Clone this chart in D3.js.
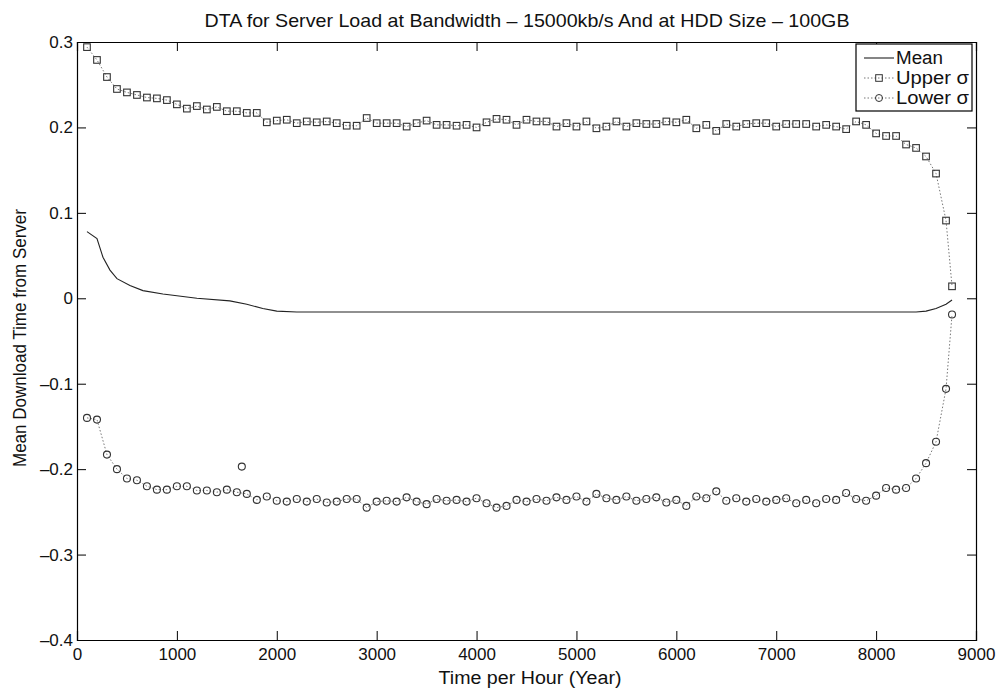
<!DOCTYPE html>
<html>
<head>
<meta charset="utf-8">
<script src="https://cdn.jsdelivr.net/npm/d3@7"></script>
<style>
  html, body { margin: 0; padding: 0; background: #fff; }
  svg { display: block; }
  text { font-family: "Liberation Sans", Arial, Helvetica, sans-serif; fill: #111; }
</style>
</head>
<body>
<svg id="chart" width="996" height="690"></svg>
<script>
// ---------------- data ----------------
const titleText = "DTA for Server Load at Bandwidth \u2013 15000kb/s And at HDD Size \u2013 100GB";
const xLabel = "Time per Hour (Year)";
const yLabel = "Mean Download Time from Server";
const xTicks = [0, 1000, 2000, 3000, 4000, 5000, 6000, 7000, 8000, 9000];
const yTicks = [0.3, 0.2, 0.1, 0, -0.1, -0.2, -0.3, -0.4];
const yTickLabels = ["0.3", "0.2", "0.1", "0", "\u20130.1", "\u20130.2", "\u20130.3", "\u20130.4"];
const legendNames = ["Mean", "Upper \u03c3", "Lower \u03c3"];

// hours where the sigma markers sit
const sigmaX = [100,200,300,400,500,600,700,800,900,1000,1100,1200,1300,1400,1500,1600,1700,1800,1900,2000,
  2100,2200,2300,2400,2500,2600,2700,2800,2900,3000,3100,3200,3300,3400,3500,3600,3700,3800,3900,4000,
  4100,4200,4300,4400,4500,4600,4700,4800,4900,5000,5100,5200,5300,5400,5500,5600,5700,5800,5900,6000,
  6100,6200,6300,6400,6500,6600,6700,6800,6900,7000,7100,7200,7300,7400,7500,7600,7700,7800,7900,8000,
  8100,8200,8300,8400,8500,8600,8700,8760];

const upperSigma = [0.294,0.279,0.259,0.245,0.241,0.238,0.235,0.234,0.232,0.227,0.222,0.225,0.221,0.224,0.219,0.219,0.217,0.217,0.206,0.208,
  0.209,0.205,0.207,0.206,0.207,0.205,0.202,0.202,0.211,0.205,0.205,0.205,0.201,0.205,0.208,0.203,0.203,0.202,0.203,0.200,
  0.206,0.210,0.209,0.203,0.209,0.207,0.207,0.201,0.205,0.201,0.207,0.199,0.201,0.207,0.201,0.205,0.204,0.204,0.207,0.206,
  0.209,0.199,0.203,0.196,0.204,0.201,0.204,0.205,0.205,0.201,0.204,0.204,0.204,0.201,0.203,0.201,0.198,0.207,0.203,0.193,
  0.190,0.190,0.180,0.176,0.166,0.146,0.091,0.014];

const lowerSigma = [-0.140,-0.142,-0.183,-0.200,-0.211,-0.213,-0.220,-0.224,-0.224,-0.220,-0.220,-0.225,-0.225,-0.227,-0.224,-0.227,-0.229,-0.236,-0.232,-0.237,
  -0.238,-0.235,-0.238,-0.235,-0.239,-0.238,-0.235,-0.235,-0.245,-0.238,-0.237,-0.238,-0.233,-0.238,-0.241,-0.235,-0.237,-0.236,-0.238,-0.234,
  -0.240,-0.245,-0.243,-0.236,-0.238,-0.235,-0.237,-0.233,-0.236,-0.232,-0.238,-0.229,-0.234,-0.236,-0.232,-0.237,-0.235,-0.233,-0.239,-0.236,
  -0.243,-0.232,-0.234,-0.226,-0.237,-0.234,-0.238,-0.235,-0.238,-0.236,-0.234,-0.240,-0.236,-0.240,-0.235,-0.236,-0.228,-0.235,-0.237,-0.231,
  -0.222,-0.224,-0.222,-0.211,-0.193,-0.168,-0.106,-0.019];

// a stray lower-sigma marker
const lowerStrayX = [1650];
const lowerStrayY = [-0.197];

const meanX = [100,200,260,330,400,530,660,860,1200,1530,1700,1860,2000,2200,2500,3000,4000,5000,6000,7000,8000,8400,8500,8600,8700,8760];
const meanY = [0.078,0.070,0.048,0.033,0.023,0.015,0.009,0.005,0.000,-0.003,-0.007,-0.012,-0.015,-0.016,-0.016,-0.016,-0.016,-0.016,-0.016,-0.016,-0.016,-0.016,-0.015,-0.012,-0.007,-0.002];

// ---------------- drawing ----------------
const svg = d3.select("#chart");
const L = 77, R = 976, T = 42, B = 640;
const x = d3.scaleLinear().domain([0, 9000]).range([L, R]);
const y = d3.scaleLinear().domain([-0.4, 0.3]).range([B, T]);

const tickLen = 9;
const gB = svg.append("g").attr("transform", `translate(0,${B})`)
  .call(d3.axisBottom(x).tickValues(xTicks).tickSize(-tickLen).tickPadding(6).tickFormat(d3.format("d")));
const gT = svg.append("g").attr("transform", `translate(0,${T})`)
  .call(d3.axisTop(x).tickValues(xTicks).tickSize(-tickLen).tickFormat(""));
const gL = svg.append("g").attr("transform", `translate(${L},0)`)
  .call(d3.axisLeft(y).tickValues(yTicks).tickSize(-tickLen).tickPadding(4)
    .tickFormat((d, i) => yTickLabels[i]));
const gR = svg.append("g").attr("transform", `translate(${R},0)`)
  .call(d3.axisRight(y).tickValues(yTicks).tickSize(-tickLen).tickFormat(""));

[gB, gT, gL, gR].forEach(g => {
  g.select(".domain").attr("stroke", "#000").attr("stroke-width", 1.2);
  g.selectAll(".tick line").attr("stroke", "#000").attr("stroke-width", 1);
  g.selectAll(".tick text").attr("font-size", 17).attr("fill", "#111")
    .style("font-family", '"Liberation Sans", Arial, sans-serif');
});
gB.selectAll(".tick text").attr("dy", "0.85em");

// mean line
const meanData = meanX.map((d, i) => [d, meanY[i]]);
svg.append("path").datum(meanData)
  .attr("fill", "none").attr("stroke", "#222").attr("stroke-width", 1.1)
  .attr("d", d3.line().x(d => x(d[0])).y(d => y(d[1])));

// upper sigma
const upData = sigmaX.map((d, i) => [d, upperSigma[i]]);
svg.append("path").datum(upData)
  .attr("fill", "none").attr("stroke", "#777").attr("stroke-width", 1)
  .attr("stroke-dasharray", "1.5,2")
  .attr("d", d3.line().x(d => x(d[0])).y(d => y(d[1])));
svg.append("g").selectAll("rect").data(upData).join("rect")
  .attr("x", d => x(d[0]) - 3.3).attr("y", d => y(d[1]) - 3.3)
  .attr("width", 6.6).attr("height", 6.6)
  .attr("fill", "none").attr("stroke", "#333").attr("stroke-width", 1.1);

// lower sigma
const loData = sigmaX.map((d, i) => [d, lowerSigma[i]]);
svg.append("path").datum(loData)
  .attr("fill", "none").attr("stroke", "#777").attr("stroke-width", 1)
  .attr("stroke-dasharray", "1.5,2")
  .attr("d", d3.line().x(d => x(d[0])).y(d => y(d[1])));
const loAll = loData.concat(lowerStrayX.map((d, i) => [d, lowerStrayY[i]]));
svg.append("g").selectAll("circle").data(loAll).join("circle")
  .attr("cx", d => x(d[0])).attr("cy", d => y(d[1])).attr("r", 3.5)
  .attr("fill", "none").attr("stroke", "#333").attr("stroke-width", 1.1);

// title
svg.append("text").attr("x", 527).attr("y", 27)
  .attr("text-anchor", "middle").attr("font-size", 18.5)
  .attr("textLength", 645).attr("lengthAdjust", "spacingAndGlyphs").text(titleText);

// axis labels
svg.append("text").attr("x", 530).attr("y", 684)
  .attr("text-anchor", "middle").attr("font-size", 18)
  .attr("textLength", 183).attr("lengthAdjust", "spacingAndGlyphs").text(xLabel);
svg.append("text").attr("transform", `translate(26,${(T + B) / 2 - 3}) rotate(-90)`)
  .attr("text-anchor", "middle").attr("font-size", 18)
  .attr("textLength", 258).attr("lengthAdjust", "spacingAndGlyphs").text(yLabel);

// legend
const lg = svg.append("g");
const lgX0 = 856, lgX1 = 972, lgY0 = 44, rowH = 20;
const legendTextLen = [47, 73, 73];
lg.append("rect").attr("x", lgX0).attr("y", lgY0).attr("width", lgX1 - lgX0).attr("height", 67)
  .attr("fill", "#fff").attr("stroke", "#000").attr("stroke-width", 1.2);
legendNames.forEach((name, i) => {
  const cy = lgY0 + 14 + i * rowH;
  const line = lg.append("line").attr("x1", lgX0 + 8).attr("x2", lgX0 + 38)
    .attr("y1", cy).attr("y2", cy);
  if (i === 0) {
    line.attr("stroke", "#222").attr("stroke-width", 1.1);
  } else {
    line.attr("stroke", "#777").attr("stroke-dasharray", "1.5,2");
    if (i === 1) {
      lg.append("rect").attr("x", lgX0 + 23 - 3.3).attr("y", cy - 3.3).attr("width", 6.6).attr("height", 6.6)
        .attr("fill", "none").attr("stroke", "#333");
    } else {
      lg.append("circle").attr("cx", lgX0 + 23).attr("cy", cy).attr("r", 3.5)
        .attr("fill", "none").attr("stroke", "#333");
    }
  }
  lg.append("text").attr("x", lgX0 + 40).attr("y", cy).attr("dy", "0.36em")
    .attr("font-size", 18).attr("textLength", legendTextLen[i]).attr("lengthAdjust", "spacingAndGlyphs")
    .text(name);
});
</script>
</body>
</html>
